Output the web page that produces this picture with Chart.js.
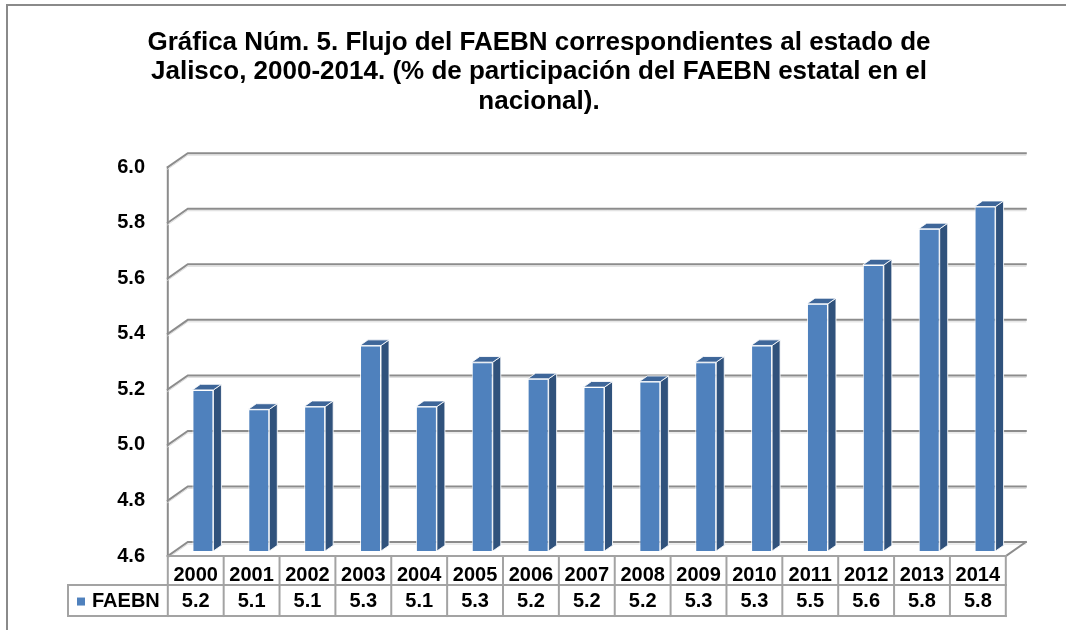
<!DOCTYPE html>
<html lang="es">
<head>
<meta charset="utf-8">
<title>Flujo del FAEBN – Jalisco 2000-2014</title>
<script src="https://cdn.jsdelivr.net/npm/chart.js@4.4.1/dist/chart.umd.min.js"></script>
<style>
  html, body { margin: 0; padding: 0; background: #ffffff; }
  #wrap { width: 1066px; height: 630px; }
</style>
</head>
<body>
<div id="wrap"><canvas id="chart" width="1066" height="630"></canvas></div>
<script>
// Years shown on the category axis / data table
const years = ['2000', '2001', '2002', '2003', '2004', '2005', '2006', '2007',
               '2008', '2009', '2010', '2011', '2012', '2013', '2014'];
// Share of the state FAEBN in the national total (%)
const faebn = [5.18, 5.11, 5.12, 5.34, 5.12, 5.28, 5.22, 5.19,
               5.21, 5.28, 5.34, 5.49, 5.63, 5.76, 5.84];
const seriesName = 'FAEBN';
// Value axis range and tick step
const yMin = 4.6;
const yMax = 6.0;
const yStep = 0.2;

const titleLines = [
  'Gráfica Núm. 5. Flujo del FAEBN correspondientes al estado de',
  'Jalisco, 2000-2014. (% de participación del FAEBN estatal en el',
  'nacional).'
];

const FONT = '"Liberation Sans", Arial, Helvetica, sans-serif';
const BAR_FRONT = '#4f81bd';
const BAR_SIDE = '#30527c';
const BAR_TOP = '#3e6699';
const GRID = '#8c8c8c';
const TABLE_LINE = '#a3a3a3';

// Oblique projection of the 3-D box: full depth, and where the bar plane sits in it
const depth = { dx: 20, dy: 14, f: 0.36, bar: 0.4 };
const frontOff = { x: -depth.dx * depth.f, y: depth.dy * depth.f };
const backOff = { x: depth.dx * (1 - depth.f), y: -depth.dy * (1 - depth.f) };

function line(ctx, pts, color, width) {
  ctx.beginPath();
  ctx.moveTo(pts[0][0], pts[0][1]);
  for (let i = 1; i < pts.length; i++) ctx.lineTo(pts[i][0], pts[i][1]);
  ctx.strokeStyle = color;
  ctx.lineWidth = width;
  ctx.stroke();
}

const box3d = {
  id: 'box3d',
  beforeDraw(chart) {
    const ctx = chart.ctx;
    ctx.save();
    ctx.fillStyle = '#ffffff';
    ctx.fillRect(0, 0, chart.width, chart.height);
    // outer frame of the chart object
    ctx.strokeStyle = '#8a8a8a';
    ctx.lineWidth = 2;
    ctx.strokeRect(7, 5, chart.width + 20, chart.height + 20);
    ctx.restore();
  },
  beforeDatasetsDraw(chart) {
    const ctx = chart.ctx;
    const ys = chart.scales.y;
    const ca = chart.chartArea;
    ctx.save();
    ctx.lineCap = 'square';
    const fx = ca.left + frontOff.x;
    // side wall front edge
    line(ctx, [[fx, ys.getPixelForValue(yMax) + frontOff.y],
               [fx, ys.getPixelForValue(yMin) + frontOff.y]], GRID, 2);
    // gridlines on side wall and back wall
    ys.ticks.forEach(t => {
      const yb = ys.getPixelForValue(t.value);
      line(ctx, [[fx, yb + frontOff.y + 2], [ca.left + backOff.x, yb + backOff.y + 2],
                 [ca.right + backOff.x, yb + backOff.y + 2]], '#dcdcdc', 1);
      line(ctx, [[fx, yb + frontOff.y], [ca.left + backOff.x, yb + backOff.y],
                 [ca.right + backOff.x, yb + backOff.y]], GRID, 2);
    });
    // right edge of the floor
    const yBase = ys.getPixelForValue(yMin);
    line(ctx, [[ca.right + frontOff.x, yBase + frontOff.y],
               [ca.right + backOff.x, yBase + backOff.y]], GRID, 2);
    ctx.restore();
  },
  afterDatasetsDraw(chart) {
    const ctx = chart.ctx;
    const meta = chart.getDatasetMeta(0);
    const ca = chart.chartArea;
    const sdx = depth.dx * depth.bar;
    const sdy = depth.dy * depth.bar;
    ctx.save();
    ctx.lineJoin = 'round';
    meta.data.forEach(bar => {
      const p = bar.getProps(['x', 'y', 'base', 'width'], true);
      const l = p.x - p.width / 2;
      const r = p.x + p.width / 2;
      const b = Math.min(p.base, ca.bottom);
      // side face
      ctx.beginPath();
      ctx.moveTo(r, p.y);
      ctx.lineTo(r + sdx, p.y - sdy);
      ctx.lineTo(r + sdx, b - sdy);
      ctx.lineTo(r, b);
      ctx.closePath();
      ctx.fillStyle = BAR_SIDE;
      ctx.fill();
      ctx.strokeStyle = 'rgba(255,255,255,0.85)';
      ctx.lineWidth = 1;
      ctx.stroke();
      // top face
      ctx.beginPath();
      ctx.moveTo(l, p.y);
      ctx.lineTo(l + sdx, p.y - sdy);
      ctx.lineTo(r + sdx, p.y - sdy);
      ctx.lineTo(r, p.y);
      ctx.closePath();
      ctx.fillStyle = BAR_TOP;
      ctx.fill();
      ctx.stroke();
    });
    ctx.restore();
  },
  afterDraw(chart) {
    const ctx = chart.ctx;
    const xs = chart.scales.x;
    const ys = chart.scales.y;
    const colW = xs.getPixelForValue(1) - xs.getPixelForValue(0);
    const left = xs.getPixelForValue(0) - colW / 2 + frontOff.x;
    const right = left + years.length * colW;
    const yTop = ys.getPixelForValue(yMin) + frontOff.y;
    const yMid = yTop + 29;
    const yBot = yMid + 31;
    const legendLeft = 68;
    ctx.save();
    ctx.lineCap = 'square';
    // table grid
    line(ctx, [[left, yTop], [right, yTop]], TABLE_LINE, 2);
    line(ctx, [[legendLeft, yMid], [right, yMid]], TABLE_LINE, 2);
    line(ctx, [[legendLeft, yBot], [right, yBot]], TABLE_LINE, 2);
    line(ctx, [[legendLeft, yMid], [legendLeft, yBot]], TABLE_LINE, 2);
    for (let i = 0; i <= years.length; i++) {
      const x = left + i * colW;
      line(ctx, [[x, yTop], [x, yBot]], TABLE_LINE, 2);
    }
    // values row
    ctx.fillStyle = '#000000';
    ctx.font = 'bold 20px ' + FONT;
    ctx.textAlign = 'center';
    ctx.textBaseline = 'middle';
    const rowY = (yMid + yBot) / 2 + 1;
    faebn.forEach((v, i) => {
      ctx.fillText(v.toFixed(1), left + (i + 0.5) * colW, rowY);
    });
    // legend key
    ctx.fillStyle = BAR_FRONT;
    ctx.fillRect(77, rowY - 4, 8, 8);
    ctx.fillStyle = '#000000';
    ctx.textAlign = 'left';
    ctx.fillText(seriesName, 92, rowY);
    ctx.restore();
  }
};

new Chart(document.getElementById('chart'), {
  type: 'bar',
  data: {
    labels: years,
    datasets: [{
      label: seriesName,
      data: faebn,
      backgroundColor: BAR_FRONT,
      borderColor: 'rgba(255,255,255,0.85)',
      borderWidth: 1,
      borderSkipped: 'start',
      barPercentage: 0.376,
      categoryPercentage: 1.0
    }]
  },
  options: {
    responsive: false,
    devicePixelRatio: 1,
    animation: false,
    layout: { padding: { left: 12, right: 0, top: 0, bottom: 0 } },
    plugins: {
      legend: { display: false },
      tooltip: { enabled: false },
      title: {
        display: true,
        text: titleLines,
        color: '#000000',
        font: { family: FONT, size: 26, weight: 'bold', lineHeight: 1.13 },
        padding: { top: 28, bottom: 46 }
      }
    },
    scales: {
      x: {
        position: 'bottom',
        grid: { display: false, drawTicks: false },
        border: { display: false },
        ticks: {
          color: '#000000',
          font: { family: FONT, size: 20, weight: 'bold' },
          padding: 12,
          labelOffset: frontOff.x,
          autoSkip: false,
          maxRotation: 0
        },
        afterFit(scale) { scale.height = 79; }
      },
      y: {
        min: yMin,
        max: yMax,
        grid: { display: false, drawTicks: false },
        border: { display: false },
        ticks: {
          stepSize: yStep,
          color: '#000000',
          font: { family: FONT, size: 20, weight: 'bold' },
          padding: 30,
          labelOffset: frontOff.y,
          callback: v => Number(v).toFixed(1)
        },
        afterFit(scale) { scale.width = 163; }
      },
      // empty margin on the right side of the plot
      yRight: {
        position: 'right',
        min: yMin,
        max: yMax,
        grid: { display: false, drawTicks: false },
        border: { display: false },
        ticks: { display: false },
        afterFit(scale) { scale.width = 53; }
      }
    }
  },
  plugins: [box3d]
});
</script>
</body>
</html>
